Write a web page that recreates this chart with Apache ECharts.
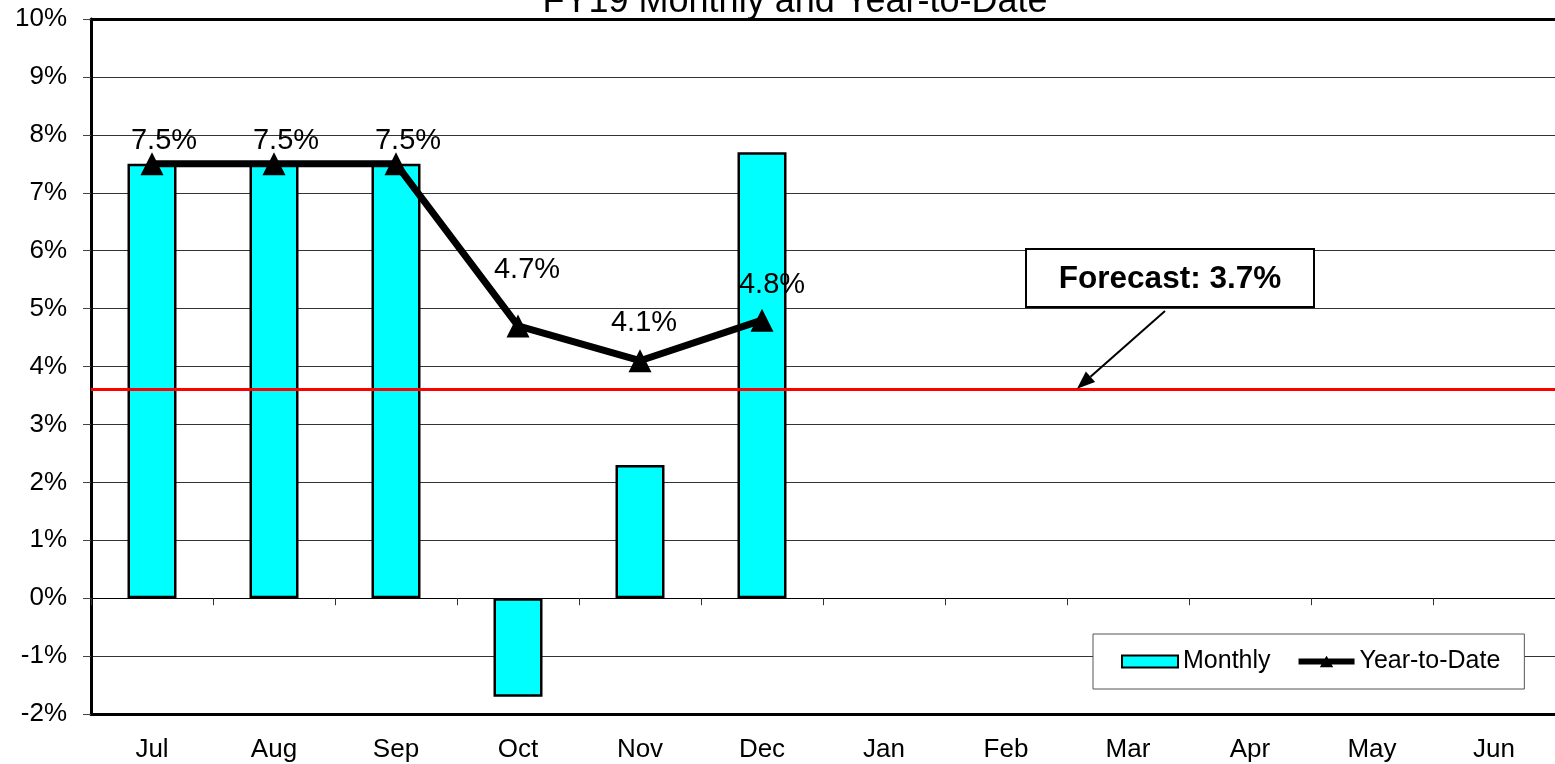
<!DOCTYPE html>
<html>
<head>
<meta charset="utf-8">
<script src="https://cdn.jsdelivr.net/npm/echarts@6/dist/echarts.min.js"></script>
<style>
html,body{margin:0;padding:0;background:#fff;}
#chart{width:1555px;height:764px;}
</style>
</head>
<body>
<div id="chart"></div>
<script>
// ---- data ----
var titleText = 'FY19 Monthly and Year-to-Date';
var months = ['Jul','Aug','Sep','Oct','Nov','Dec','Jan','Feb','Mar','Apr','May','Jun'];
var monthly = [7.5, 7.5, 7.5, -1.7, 2.3, 7.7, null, null, null, null, null, null];
var ytd = [7.5, 7.5, 7.5, 4.7, 4.1, 4.8, null, null, null, null, null, null];
var forecastLine = 3.6;
var forecastText = 'Forecast: 3.7%';
var yMin = -2, yMax = 10, yStep = 1;

// ---- styles ----
var FONT = '"Liberation Sans", Arial, sans-serif';
var labelOffsets = [[12,-23],[12,-23],[12,-23],[9,-56],[4,-38],[10,-35]];
var lineLegendIcon = 'path://M0,3 L27.25,3 L29,0 L30.75,3 L58,3 L58,9 L34.25,9 L36,12 L22,12 L23.75,9 L0,9 Z';

var ytdData = ytd.map(function(v, i){
  var o = {value: v};
  if (v != null && labelOffsets[i]) {
    o.label = {offset: labelOffsets[i]};
  }
  return o;
});

var chart = echarts.init(document.getElementById('chart'));
var option = {
  animation: false,
  backgroundColor: '#fff',
  title: {
    text: titleText,
    left: 790, textAlign: 'center',
    top: -21,
    textStyle: {fontFamily: FONT, fontSize: 36, fontWeight: 'normal', color: '#000'}
  },
  grid: {
    left: 91, top: 19, right: 0, height: 695,
    show: false, containLabel: false
  },
  legend: {
    left: 1093, top: 634,
    orient: 'horizontal',
    backgroundColor: '#fff', borderColor: '#555', borderWidth: 1,
    padding: [15, 24, 15, 28],
    itemGap: 28, itemWidth: 56, itemHeight: 12,
    textStyle: {fontFamily: FONT, fontSize: 25, color: '#000'},
    data: [
      {name: 'Monthly', icon: 'rect'},
      {name: 'Year-to-Date', icon: lineLegendIcon, itemStyle: {color: '#000'}}
    ]
  },
  xAxis: [{
    type: 'category', data: months, position: 'bottom',
    axisLine: {show: true, onZero: false, lineStyle: {color: '#000', width: 3}},
    axisTick: {show: false},
    axisLabel: {fontFamily: FONT, fontSize: 26, color: '#000', margin: 23},
    splitLine: {show: false}
  }, {
    type: 'category', data: months, position: 'bottom',
    axisLine: {show: true, onZero: true, lineStyle: {color: '#000', width: 1}},
    axisTick: {show: true, length: 7, lineStyle: {color: '#333', width: 1}},
    axisLabel: {show: false},
    splitLine: {show: false}
  }, {
    type: 'category', data: months, position: 'top',
    axisLine: {show: true, onZero: false, lineStyle: {color: '#000', width: 3}},
    axisTick: {show: false},
    axisLabel: {show: false},
    splitLine: {show: false}
  }],
  yAxis: {
    type: 'value', min: yMin, max: yMax, interval: yStep,
    axisLine: {show: true, lineStyle: {color: '#000', width: 3}},
    axisTick: {show: true, length: 8, lineStyle: {color: '#444'}},
    axisLabel: {fontFamily: FONT, fontSize: 26, color: '#000', margin: 24,
      formatter: function(v){ return v + '%'; }},
    splitLine: {show: true, lineStyle: {color: '#333', width: 1}}
  },
  series: [{
    name: 'Monthly', type: 'bar', xAxisIndex: 0, data: monthly,
    barWidth: 49,
    itemStyle: {color: '#00FFFF', borderColor: '#000', borderWidth: 2.5},
    z: 2
  }, {
    name: 'Year-to-Date', type: 'line', xAxisIndex: 0, data: ytdData,
    symbol: 'triangle', symbolSize: 23, showAllSymbol: true,
    lineStyle: {color: '#000', width: 7},
    itemStyle: {color: '#000'},
    label: {show: true, position: 'inside', fontFamily: FONT, fontSize: 29, color: '#000',
      formatter: function(p){ return p.value == null ? '' : p.value.toFixed(1) + '%'; }},
    z: 4,
    markLine: {
      silent: true, symbol: ['none','none'],
      label: {show: false},
      lineStyle: {color: '#FF0000', width: 3, type: 'solid'},
      data: [{yAxis: forecastLine}],
      z: 3
    }
  }]
};
chart.setOption(option);

// Forecast annotation box + arrow
(function(){
  var tipY = chart.convertToPixel({yAxisIndex: 0}, forecastLine);
  var tip = [1077, tipY - 1];
  var start = [1165, 311];
  var dx = tip[0]-start[0], dy = tip[1]-start[1];
  var len = Math.sqrt(dx*dx+dy*dy);
  var ux = dx/len, uy = dy/len;
  var hl = 18, hw = 7;
  var base = [tip[0]-ux*hl, tip[1]-uy*hl];
  var p1 = [base[0]-uy*hw, base[1]+ux*hw];
  var p2 = [base[0]+uy*hw, base[1]-ux*hw];
  chart.setOption({
    graphic: [{
      type: 'rect', shape: {x: 1026, y: 249, width: 288, height: 58},
      style: {fill: '#fff', stroke: '#000', lineWidth: 2}, z: 10
    }, {
      type: 'text', x: 1170, y: 279, z: 11,
      style: {text: forecastText, fontFamily: FONT, fontSize: 31.5, fontWeight: 'bold', fill: '#000',
        align: 'center', verticalAlign: 'middle'}
    }, {
      type: 'line', shape: {x1: start[0], y1: start[1], x2: base[0], y2: base[1]},
      style: {stroke: '#000', lineWidth: 2}, z: 10
    }, {
      type: 'polygon', shape: {points: [tip, p1, p2]},
      style: {fill: '#000'}, z: 10
    }]
  });
})();
</script>
</body>
</html>
